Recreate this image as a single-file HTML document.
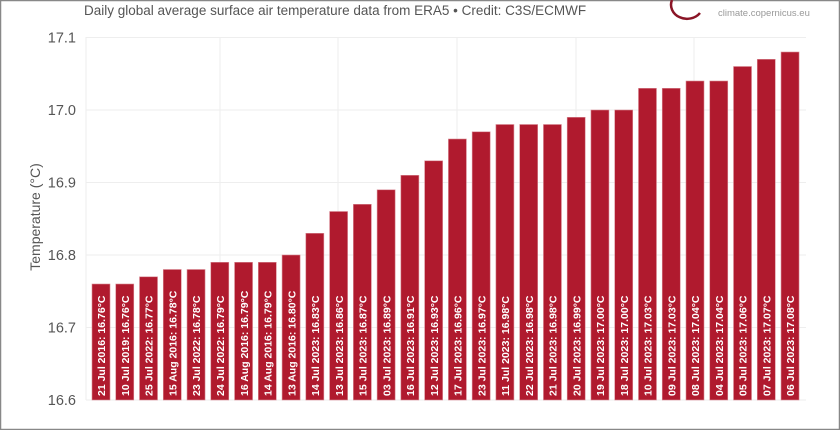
<!DOCTYPE html>
<html><head><meta charset="utf-8"><style>
html,body{margin:0;padding:0;background:#fff;}
svg{display:block;font-family:"Liberation Sans",sans-serif;}
</style></head><body>
<svg width="840" height="430" viewBox="0 0 840 430" xmlns="http://www.w3.org/2000/svg">
<rect x="0.5" y="0.5" width="839" height="429" fill="#fff" stroke="#888" stroke-width="1.5"/>
<text x="84" y="15" font-size="13.5" fill="#555">Daily global average surface air temperature data from ERA5 • Credit: C3S/ECMWF</text>
<path d="M672 0 A16 14 0 0 0 700 13" fill="none" stroke="#8a1526" stroke-width="2.5"/>
<text x="718" y="16" font-size="9.5" fill="#999">climate.copernicus.eu</text>
<g stroke="#eee" stroke-width="1">
<line x1="86" y1="37.5" x2="806" y2="37.5"/>
<line x1="86" y1="110" x2="806" y2="110"/>
<line x1="86" y1="182.5" x2="806" y2="182.5"/>
<line x1="86" y1="255" x2="806" y2="255"/>
<line x1="86" y1="327.5" x2="806" y2="327.5"/>
<line x1="86" y1="400" x2="806" y2="400"/>
<line x1="86" y1="37" x2="86" y2="400"/>
<line x1="220" y1="37" x2="220" y2="400"/>
<line x1="338" y1="37" x2="338" y2="400"/>
<line x1="457" y1="37" x2="457" y2="400"/>
<line x1="576" y1="37" x2="576" y2="400"/>
<line x1="694" y1="37" x2="694" y2="400"/>
</g>
<g font-size="14.5" fill="#555" text-anchor="end">
<text x="76" y="42.5">17.1</text>
<text x="76" y="115">17.0</text>
<text x="76" y="187.5">16.9</text>
<text x="76" y="260">16.8</text>
<text x="76" y="332.5">16.7</text>
<text x="76" y="405">16.6</text>
</g>
<text transform="translate(40,217) rotate(-90)" font-size="14" fill="#555" text-anchor="middle">Temperature (°C)</text>
<g id="bars"></g>
</svg>
<script>
var d=[["21 Jul 2016",16.76],["10 Jul 2019",16.76],["25 Jul 2022",16.77],["15 Aug 2016",16.78],["23 Jul 2022",16.78],["24 Jul 2022",16.79],["16 Aug 2016",16.79],["14 Aug 2016",16.79],["13 Aug 2016",16.80],["14 Jul 2023",16.83],["13 Jul 2023",16.86],["15 Jul 2023",16.87],["03 Jul 2023",16.89],["16 Jul 2023",16.91],["12 Jul 2023",16.93],["17 Jul 2023",16.96],["23 Jul 2023",16.97],["11 Jul 2023",16.98],["22 Jul 2023",16.98],["21 Jul 2023",16.98],["20 Jul 2023",16.99],["19 Jul 2023",17.00],["18 Jul 2023",17.00],["10 Jul 2023",17.03],["09 Jul 2023",17.03],["08 Jul 2023",17.04],["04 Jul 2023",17.04],["05 Jul 2023",17.06],["07 Jul 2023",17.07],["06 Jul 2023",17.08]];
var g=document.getElementById('bars'),s='';
d.forEach(function(e,i){var x=92+i*23.76,y=400-(e[1]-16.6)*725;
s+='<rect x="'+x.toFixed(2)+'" y="'+y.toFixed(1)+'" width="18" height="'+(400-y).toFixed(1)+'" fill="#b01a2e" stroke="#d98a94" stroke-width="0.6"/>';
s+='<text transform="translate('+(x+13.2).toFixed(2)+',396) rotate(-90)" font-size="10.5" font-weight="bold" fill="#fff">'+e[0]+': '+e[1].toFixed(2)+'°C</text>';});
g.innerHTML=s;
</script>
</body></html>
